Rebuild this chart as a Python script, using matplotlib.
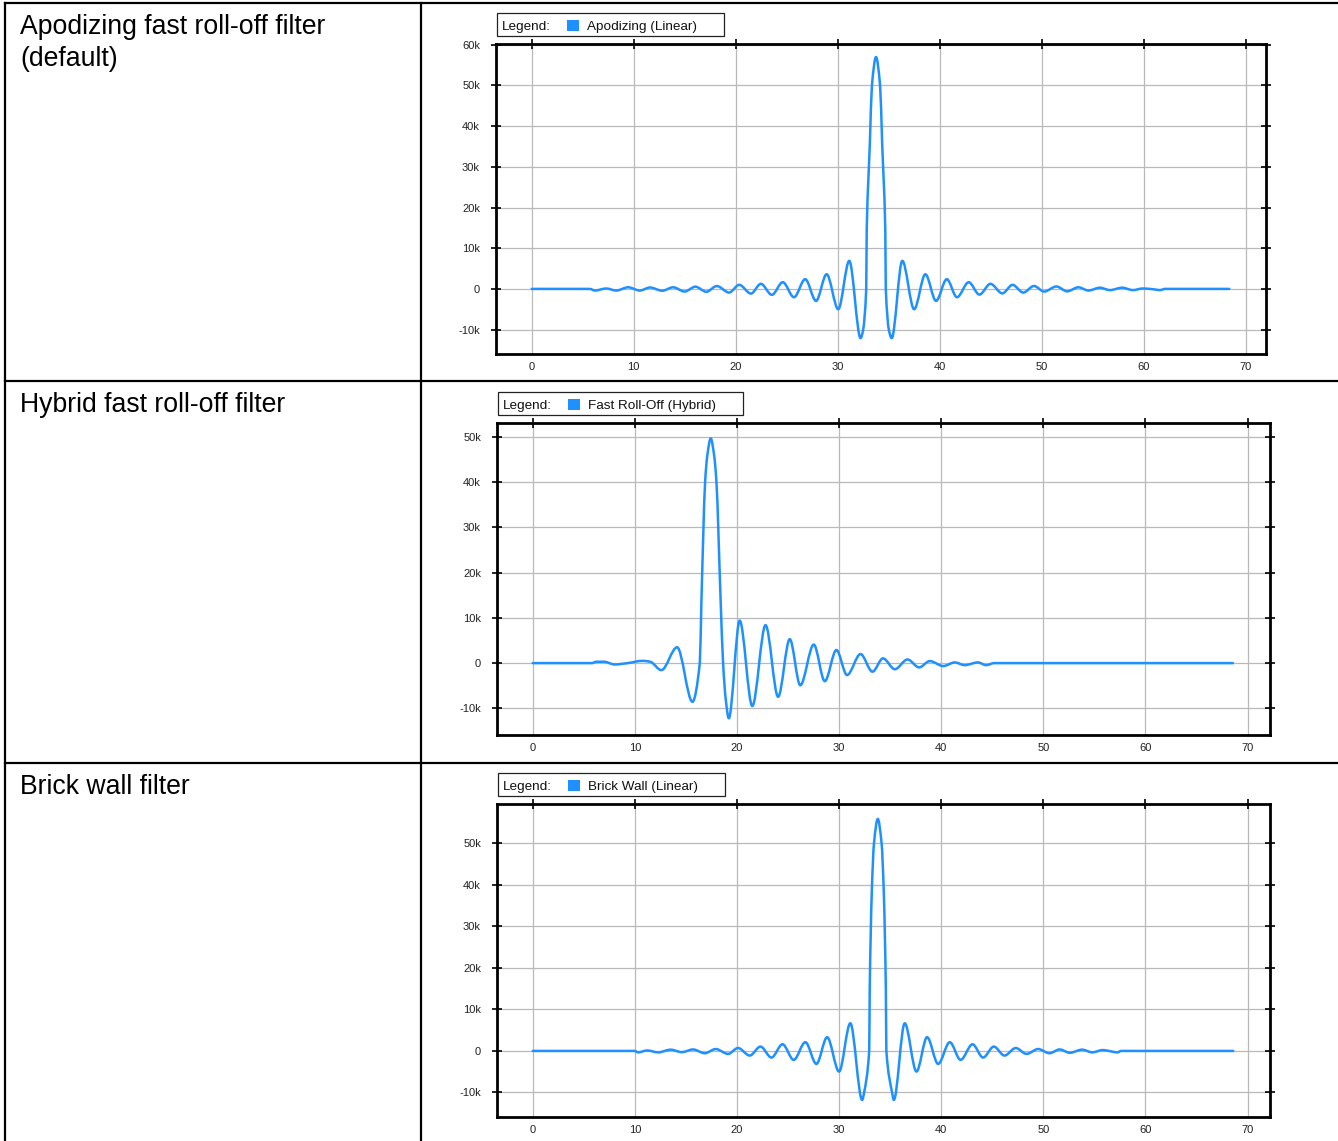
import matplotlib
matplotlib.use("Agg")
import matplotlib.pyplot as plt
from matplotlib.patches import Rectangle, PathPatch
from matplotlib.lines import Line2D
from matplotlib.path import Path
from matplotlib.ticker import FuncFormatter, MultipleLocator
from matplotlib.transforms import Affine2D

row_titles = ["Apodizing fast roll-off filter\n(default)",
              "Hybrid fast roll-off filter",
              "Brick wall filter"]
legend_names = ["Apodizing (Linear)", "Fast Roll-Off (Hybrid)", "Brick Wall (Linear)"]

# impulse responses (amplitude in thousands)
apod_x = [0, 5.7, 6.2, 7.3, 8.3, 9.46, 10.6, 11.6, 12.8, 13.87, 15.0, 16.05, 17.12, 18.15,
          19.36, 20.35, 21.5, 22.47, 23.55, 24.62, 25.72, 26.82, 27.88, 28.92, 30.06, 31.14,
          32.25, 32.5, 32.8, 32.85, 33.16, 33.36, 33.76, 34.16, 34.36, 34.67, 34.72, 35.02, 35.3,
          36.34, 37.5, 38.6, 39.65, 40.7, 41.7, 42.85, 43.9, 44.98, 46.15, 47.15, 48.2, 49.25,
          50.25, 51.45, 52.5, 53.6, 54.6, 55.7, 56.7, 57.9, 58.95, 59.9, 61.0, 61.6, 62.1, 68.4]
apod_y = [0, 0, -0.4, 0.1, -0.4, 0.4, -0.4, 0.35, -0.45, 0.4, -0.65, 0.55, -0.7, 0.7,
          -0.9, 1.0, -1.15, 1.25, -1.45, 1.65, -2.05, 2.4, -2.95, 3.6, -5.0, 6.9,
          -12.1, -10.0, 0.0, 14.5, 36.0, 50.0, 57.0, 50.0, 36.0, 14.5, 0.0, -10.0, -12.1,
          6.9, -5.0, 3.6, -2.95, 2.4, -2.05, 1.65, -1.4, 1.25, -1.1, 1.0, -0.9, 0.72,
          -0.65, 0.6, -0.6, 0.4, -0.4, 0.3, -0.3, 0.3, -0.3, 0.1, -0.1, -0.3, 0, 0]

hyb_x = [0, 5.8, 6.2, 7.0, 8.0, 9.3, 10.74, 11.5, 12.6, 14.14, 15.64, 16.36, 16.52, 16.88,
         17.1, 17.43, 17.76, 17.99, 18.4, 18.64, 18.9, 19.2, 20.27, 21.5, 22.8, 24.03, 25.17,
         26.2, 27.52, 28.6, 29.74, 30.78, 32.1, 33.27, 34.3, 35.46, 36.7, 37.84, 38.88, 40.2,
         41.33, 42.3, 43.6, 44.4, 45.2, 68.56]
hyb_y = [0, 0, 0.3, 0.3, -0.3, 0, 0.5, 0.3, -1.55, 3.5, -8.55, 0, 13.9, 40,
         46, 49.7, 46, 40, 13.9, 0, -8, -12.2, 9.4, -9.5, 8.4, -7.45, 5.3,
         -4.9, 4.1, -4.0, 2.9, -2.65, 2.0, -1.9, 1.05, -1.35, 0.8, -0.95, 0.45, -0.65,
         0.15, -0.45, 0.15, -0.45, 0, 0]

brick_x = [0, 10.0, 10.3, 11.2, 12.3, 13.5, 14.6, 15.7, 16.85, 17.92, 19.13, 20.1, 21.25,
           22.3, 23.38, 24.46, 25.56, 26.7, 27.78, 28.83, 30.0, 31.1, 32.26, 32.45, 32.95,
           33.0, 33.2, 33.42, 33.79, 34.16, 34.38, 34.58, 34.63, 35.19, 35.36, 36.43, 37.58,
           38.62, 39.7, 40.84, 41.9, 43.07, 44.1, 45.15, 46.2, 47.3, 48.35, 49.5, 50.6, 51.6,
           52.6, 53.8, 54.8, 55.8, 57.3, 57.6, 68.6]
brick_y = [0, 0, -0.35, 0.1, -0.35, 0.3, -0.3, 0.35, -0.56, 0.45, -0.72, 0.7, -1.12,
           1.04, -1.6, 1.6, -2.16, 2.1, -3.13, 3.3, -4.97, 6.65, -11.8, -10, 0,
           14.7, 38, 50, 55.8, 50, 38, 14.7, 0, -10, -11.8, 6.65, -4.97,
           3.3, -3.13, 2.1, -2.16, 1.6, -1.6, 1.04, -1.12, 0.7, -0.72, 0.45, -0.56, 0.35,
           -0.45, 0.3, -0.35, 0.2, -0.35, 0, 0]

series = [(apod_x, apod_y), (hyb_x, hyb_y), (brick_x, brick_y)]
y_tick_top = [60, 50, 50]

W, H = 1338, 1141
BLUE = "#1E90FF"
FONT = "Liberation Sans"


def smooth_path(xs, ys):
    # monotone cubic through the read points (flat tangent at every peak/trough)
    n = len(xs)
    m = [0.0] * n
    for i in range(1, n - 1):
        d0 = (ys[i] - ys[i - 1]) / (xs[i] - xs[i - 1])
        d1 = (ys[i + 1] - ys[i]) / (xs[i + 1] - xs[i])
        if d0 * d1 > 0:
            m[i] = 2.0 / (1.0 / d0 + 1.0 / d1)
    verts = [(xs[0], ys[0])]
    codes = [Path.MOVETO]
    for i in range(n - 1):
        dx = xs[i + 1] - xs[i]
        verts += [(xs[i] + dx / 3, ys[i] + m[i] * dx / 3),
                  (xs[i + 1] - dx / 3, ys[i + 1] - m[i + 1] * dx / 3),
                  (xs[i + 1], ys[i + 1])]
        codes += [Path.CURVE4] * 3
    return Path(verts, codes)


fig = plt.figure(figsize=(W / 100, H / 100), dpi=100)
px = Affine2D().scale(1.0 / W, -1.0 / H).translate(0, 1) + fig.transFigure

# table cells
row_tops = [3, 381, 763]
for yt in row_tops:
    fig.add_artist(Line2D([5, W], [yt, yt], transform=px, color="k", lw=1.6))
for xv in [5, 421]:
    fig.add_artist(Line2D([xv, xv], [3, H], transform=px, color="k", lw=1.6))

for yt, title in zip(row_tops, row_titles):
    fig.text(20, yt + 11, title, transform=px, ha="left", va="top",
             fontsize=19.2, family=FONT, linespacing=1.3)

# plot boxes in pixels: left, top, right, bottom
boxes = [(496, 44, 1266, 354), (497, 423, 1270, 735), (497, 804, 1270, 1117)]
xlims = [(-3.5, 72.0), (-3.5, 72.2), (-3.5, 72.2)]
ylims = [(-16.0, 60.2), (-15.9, 53.1), (-15.9, 59.4)]

kfmt = FuncFormatter(lambda v, p: "0" if v == 0 else f"{v:g}k")

renderer = fig.canvas.get_renderer()
for (xs, ys), name, (l, t, r, b), xl, yl, ytop in zip(series, legend_names, boxes,
                                                      xlims, ylims, y_tick_top):
    ax = fig.add_axes([l / W, 1 - b / H, (r - l) / W, (b - t) / H])
    ax.add_patch(PathPatch(smooth_path(xs, ys), fill=False, edgecolor=BLUE, lw=1.8,
                           joinstyle="round", capstyle="round", zorder=3))
    ax.set_xlim(*xl)
    ax.set_ylim(*yl)
    ax.xaxis.set_major_locator(MultipleLocator(10))
    ax.set_yticks(range(-10, ytop + 1, 10))
    ax.yaxis.set_major_formatter(kfmt)
    ax.grid(True, color="#b9b9b9", lw=0.9)
    ax.set_axisbelow(True)
    for s in ax.spines.values():
        s.set_linewidth(2.0)
    ax.tick_params(axis="y", left=True, right=True, direction="inout", length=7,
                   width=1.2, pad=8, labelsize=8, labelcolor="#222222")
    ax.tick_params(axis="x", bottom=False, top=True, direction="inout", length=7,
                   width=1.2, pad=2, labelsize=8, labelcolor="#222222")
    for lab in ax.get_xticklabels() + ax.get_yticklabels():
        lab.set_family(FONT)

    # legend strip above the plot
    bl, bt, bh = l + 1, t - 31, 23
    fig.text(bl + 5, bt + 17, "Legend:", transform=px, ha="left", va="baseline",
             fontsize=9.7, family=FONT, color="#111111")
    fig.add_artist(Rectangle((bl + 70, bt + 7), 12, 11, transform=px,
                             facecolor=BLUE, edgecolor="none"))
    lt = fig.text(bl + 90, bt + 17, name, transform=px, ha="left", va="baseline",
                  fontsize=9.7, family=FONT, color="#111111")
    x_end = lt.get_window_extent(renderer).x1
    fig.add_artist(Rectangle((bl, bt), x_end + 27 - bl, bh, transform=px,
                             fill=False, edgecolor="#222222", lw=0.9))

fig.savefig("out.png", dpi=100)
